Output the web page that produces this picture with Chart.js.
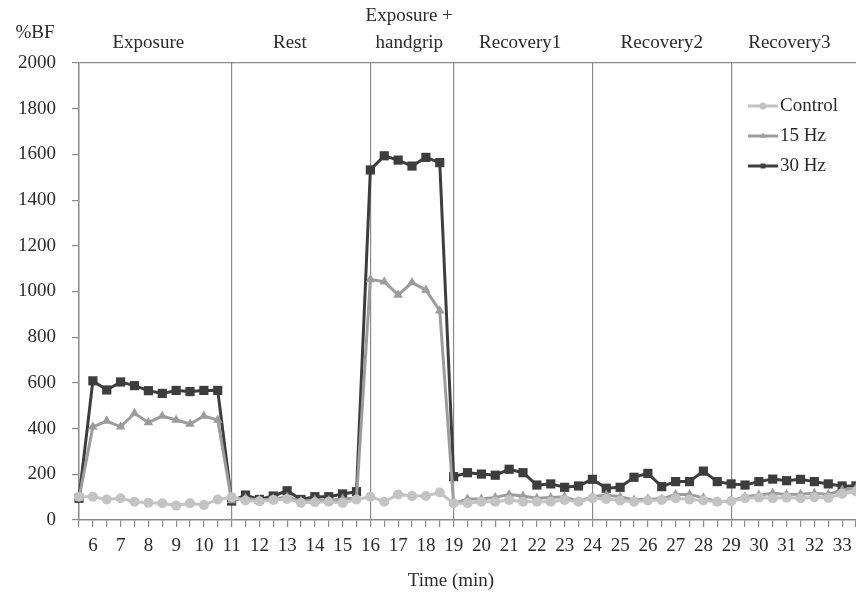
<!DOCTYPE html>
<html>
<head>
<meta charset="utf-8">
<script src="https://cdn.jsdelivr.net/npm/chart.js@4"></script>
<style>
  html, body { margin: 0; padding: 0; background: #ffffff; }
  #wrap { width: 856px; height: 598px; }
</style>
</head>
<body>
<div id="wrap"><canvas id="c" width="856" height="598"></canvas></div>
<script>
// ---- data ----
const timeMin = [5.5, 6, 6.5, 7, 7.5, 8, 8.5, 9, 9.5, 10, 10.5,
  11, 11.5, 12, 12.5, 13, 13.5, 14, 14.5, 15, 15.5,
  16, 16.5, 17, 17.5, 18, 18.5,
  19, 19.5, 20, 20.5, 21, 21.5, 22, 22.5, 23, 23.5,
  24, 24.5, 25, 25.5, 26, 26.5, 27, 27.5, 28, 28.5,
  29, 29.5, 30, 30.5, 31, 31.5, 32, 32.5, 33, 33.5];

const control = [102, 102, 90, 95, 80, 76, 73, 63, 73, 66, 90,
  100, 85, 82, 88, 92, 75, 78, 80, 75, 90,
  102, 80, 112, 105, 105, 120,
  73, 73, 80, 80, 88, 80, 80, 80, 88, 80,
  95, 92, 85, 80, 85, 88, 95, 90, 85, 80,
  82, 95, 98, 95, 98, 95, 100, 96, 115, 125];

const hz15 = [95, 408, 433, 408, 467, 427, 455, 438, 420, 455, 438,
  85, 95, 88, 92, 100, 82, 88, 85, 92, 95,
  1053, 1043, 985, 1039, 1007, 916,
  73, 92, 92, 99, 112, 105, 95, 99, 102, 80,
  102, 109, 102, 88, 92, 92, 112, 112, 97, 80,
  83, 102, 109, 117, 112, 113, 117, 112, 131, 139];

const hz30 = [95, 609, 569, 604, 588, 566, 554, 567, 562, 567, 567,
  83, 109, 90, 105, 128, 90, 102, 102, 114, 124,
  1532, 1594, 1575, 1549, 1587, 1564,
  190, 207, 201, 196, 222, 207, 153, 158, 143, 149,
  178, 139, 143, 187, 204, 146, 168, 168, 214, 168,
  158, 153, 168, 179, 172, 178, 168, 158, 149, 149];

const seriesNames = ['Control', '15 Hz', '30 Hz'];
const phaseBreaks = [11, 16, 19, 24, 29];
const phaseLabels = [['Exposure'], ['Rest'], ['Exposure +', 'handgrip'], ['Recovery1'], ['Recovery2'], ['Recovery3']];
const phaseCenters = [8.0, 13.1, 17.4, 21.4, 26.5, 31.1];
const labelledTicks = [6, 7, 8, 9, 10, 11, 12, 13, 14, 15, 16, 17, 18, 19, 20, 21, 22, 23, 24, 25, 26, 27, 28, 29, 30, 31, 32, 33];
const yTitle = '%BF';
const xTitle = 'Time (min)';

// ---- styles ----
const FONT = '"Liberation Serif", "Times New Roman", serif';
const TXT = '#2a2a2a';
const AX = '#8a8a8a';
const colors = ['#c3c3c3', '#9c9c9c', '#3d3d3d'];
const pstyles = ['circle', 'triangle', 'rect'];
const pradius = [5, 5.5, 6.5];

function pts(arr) { return arr.map((v, i) => ({ x: timeMin[i], y: v })); }

const datasets = [control, hz15, hz30].map((arr, k) => ({
  label: seriesNames[k],
  data: pts(arr),
  borderColor: colors[k],
  backgroundColor: colors[k],
  borderWidth: 3,
  pointStyle: pstyles[k],
  pointRadius: pradius[k],
  pointBorderWidth: 0,
  pointBackgroundColor: colors[k],
  tension: 0,
  clip: false
}));

const overlay = {
  id: 'overlay',
  afterDraw(chart) {
    const ctx = chart.ctx;
    const xs = chart.scales.x;
    ctx.save();
    ctx.fillStyle = TXT;
    ctx.font = '19px ' + FONT;
    ctx.textAlign = 'center';
    ctx.textBaseline = 'middle';
    ctx.fillText(yTitle, 35, 33);
    ctx.fillText(xTitle, 451, 581);
    phaseLabels.forEach((lines, i) => {
      const px = xs.getPixelForValue(phaseCenters[i]);
      if (lines.length === 1) {
        ctx.fillText(lines[0], px, 43);
      } else {
        ctx.fillText(lines[0], px, 16);
        ctx.fillText(lines[1], px, 43);
      }
    });
    const lx0 = 748, lx1 = 778, ly0 = 106, dy = 30;
    chart.data.datasets.forEach((ds, i) => {
      const y = ly0 + i * dy;
      ctx.strokeStyle = ds.borderColor;
      ctx.lineWidth = 3;
      ctx.beginPath();
      ctx.moveTo(lx0, y);
      ctx.lineTo(lx1, y);
      ctx.stroke();
      ctx.fillStyle = ds.borderColor;
      Chart.helpers.drawPoint(ctx, { pointStyle: ds.pointStyle, radius: 3.5, rotation: 0, borderWidth: 0 }, (lx0 + lx1) / 2, y);
      ctx.fillStyle = TXT;
      ctx.textAlign = 'left';
      ctx.fillText(ds.label, lx1 + 2, y);
    });
    ctx.restore();
  }
};

new Chart(document.getElementById('c'), {
  type: 'line',
  data: { datasets },
  options: {
    responsive: false,
    animation: false,
    devicePixelRatio: 1,
    layout: { autoPadding: false, padding: { top: 63, right: -2, left: 0, bottom: 0 } },
    plugins: { legend: { display: false }, tooltip: { enabled: false } },
    scales: {
      x: {
        type: 'linear',
        min: 5.5,
        max: 33.5,
        afterFit(s) { s.height = 78; s.paddingLeft = 0; s.paddingRight = 0; },
        afterBuildTicks(s) { s.ticks = s.ticks.filter(t => t.value >= 5.5 && t.value <= 33.5); },
        border: { display: true, color: AX, width: 1.5 },
        grid: {
          drawOnChartArea: true,
          color: c => (c.tick && phaseBreaks.includes(c.tick.value)) ? AX : 'rgba(0,0,0,0)',
          tickColor: AX,
          tickLength: 7,
          lineWidth: 1.2
        },
        ticks: {
          stepSize: 0.5,
          autoSkip: false,
          maxRotation: 0,
          padding: 8,
          color: TXT,
          font: { family: FONT, size: 19 },
          callback: v => labelledTicks.includes(v) ? String(v) : ''
        }
      },
      y: {
        min: 0,
        max: 2000,
        afterFit(s) { s.width = 79; },
        border: { display: true, color: AX, width: 1.5 },
        grid: {
          drawOnChartArea: true,
          color: c => (c.tick && c.tick.value === 2000) ? AX : 'rgba(0,0,0,0)',
          tickColor: AX,
          tickLength: 7,
          lineWidth: 1.2
        },
        ticks: {
          stepSize: 200,
          padding: 16,
          color: TXT,
          font: { family: FONT, size: 19 },
          callback: v => String(v)
        }
      }
    }
  },
  plugins: [overlay]
});
</script>
</body>
</html>
